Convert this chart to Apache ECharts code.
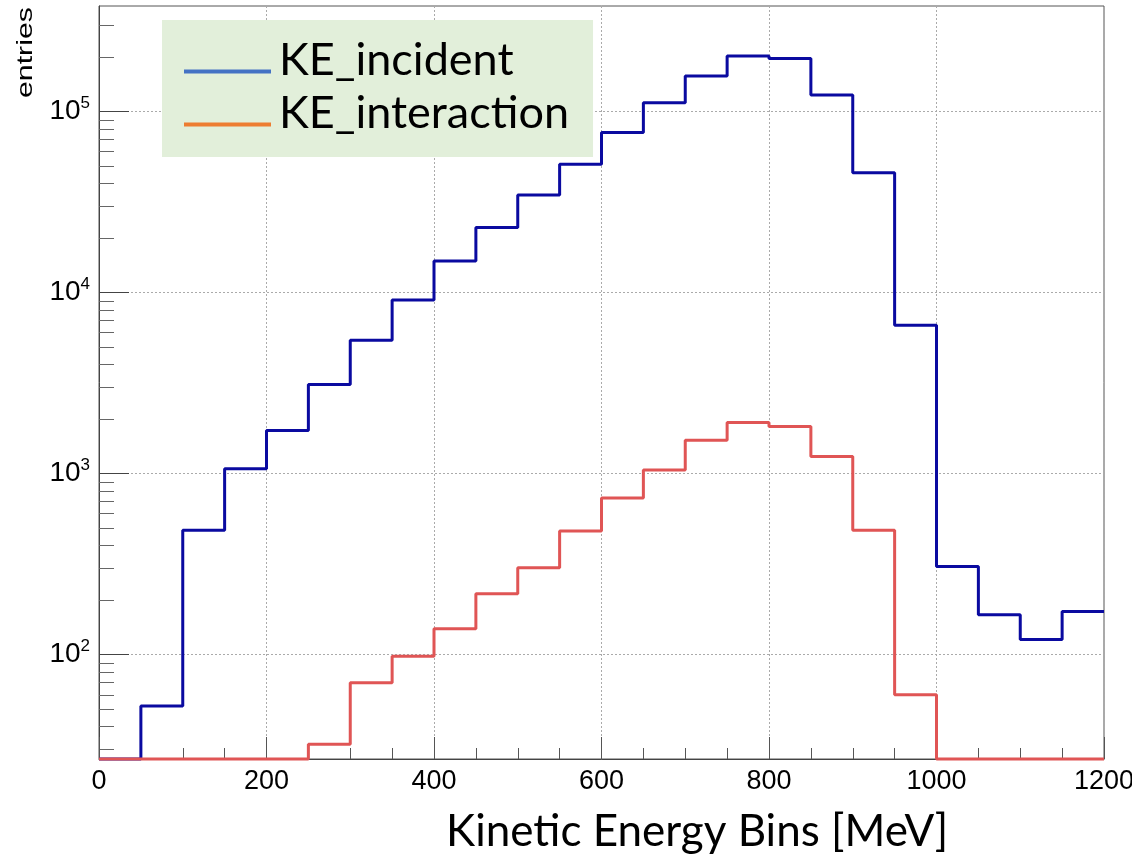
<!DOCTYPE html>
<html>
<head>
<meta charset="utf-8">
<script src="https://cdn.jsdelivr.net/npm/echarts@6/dist/echarts.min.js"></script>
<style>
  html, body { margin: 0; padding: 0; background: #fff; }
  #chart { width: 1132px; height: 859px; }
</style>
</head>
<body>
<div id="chart"></div>
<script>
// ---- data ----
const BIN_EDGES = [0, 50, 100, 150, 200, 250, 300, 350, 400, 450, 500, 550, 600,
                   650, 700, 750, 800, 850, 900, 950, 1000, 1050, 1100, 1150, 1200];
const KE_INCIDENT = [0, 52, 486, 1062, 1730, 3110, 5450, 9100, 14950, 22850, 34600, 51200,
                     76500, 111900, 157000, 202600, 196700, 123300, 45900, 6590, 307, 166, 121, 173];
const KE_INTERACTION = [0, 0, 0, 0, 0, 32, 70, 98, 139, 217, 302, 481,
                        733, 1047, 1528, 1913, 1820, 1242, 486, 60, 0, 0, 0, 0];
const SERIES_NAMES = ['KE_incident', 'KE_interaction'];
const X_TICK_LABELS = [0, 200, 400, 600, 800, 1000, 1200];
const Y_MAJOR_TICKS = [100, 1000, 10000, 100000];
const Y_MINOR_TICKS = [30, 40, 50, 60, 70, 80, 90,
                       200, 300, 400, 500, 600, 700, 800, 900,
                       2000, 3000, 4000, 5000, 6000, 7000, 8000, 9000,
                       20000, 30000, 40000, 50000, 60000, 70000, 80000, 90000,
                       200000, 300000];
const Y_MIN = 26.5, Y_MAX = 383000;

// ---- mapping onto a log10 value axis ----
const lg = v => Math.log10(v);
const yMinL = lg(Y_MIN), yMaxL = lg(Y_MAX);
function histData(values) {
  const pts = values.map((v, i) => [BIN_EDGES[i], v > 0 ? lg(v) : yMinL]);
  pts.push([BIN_EDGES[BIN_EDGES.length - 1], pts[pts.length - 1][1]]);
  return pts;
}

const NUM_FONT = "'Liberation Sans', Arial, sans-serif";
const TXT_FONT = "Lato, 'Open Sans', sans-serif";

const chart = echarts.init(document.getElementById('chart'), null, { renderer: 'canvas' });
chart.setOption({
  animation: false,
  backgroundColor: '#ffffff',
  title: {
    text: 'Kinetic Energy Bins [MeV]',
    left: 446, top: 810, padding: 0,
    textStyle: { fontFamily: TXT_FONT, fontSize: 44, fontWeight: 'normal', color: '#000' }
  },
  legend: {
    orient: 'vertical', left: 162, top: 20,
    backgroundColor: '#e2efda',
    padding: [18, 24, 21, 22],
    itemWidth: 87, itemHeight: 4, itemGap: 8,
    icon: 'rect',
    data: [
      { name: SERIES_NAMES[0], itemStyle: { color: '#4472c4' } },
      { name: SERIES_NAMES[1], itemStyle: { color: '#ed7d31' } }
    ],
    formatter: name => '{t|' + name + '}',
    textStyle: {
      color: '#000',
      rich: { t: { fontFamily: TXT_FONT, fontSize: 45, color: '#000', padding: [0, 0, 22, 3] } }
    }
  },
  grid: { left: 99, right: 28, top: 6, bottom: 100, show: true, borderColor: '#555', borderWidth: 1, outerBoundsMode: 'none' },
  xAxis: {
    type: 'value', min: 0, max: 1200, interval: 200,
    axisLine: { lineStyle: { color: '#444', width: 1 } },
    axisTick: { inside: true, length: 22, lineStyle: { color: '#555' } },
    minorTick: { show: true, splitNumber: 4, length: 11, lineStyle: { color: '#555' } },
    splitLine: { show: true, lineStyle: { color: '#aaa', type: [2, 2], width: 1 } },
    axisLabel: {
      margin: 9, color: '#000', fontFamily: NUM_FONT, fontSize: 27,
      customValues: X_TICK_LABELS,
      formatter: v => String(v)
    }
  },
  yAxis: [
    {
      type: 'value', min: yMinL, max: yMaxL,
      axisLine: { show: true, lineStyle: { color: '#444' } },
      axisTick: { inside: true, length: 30, lineStyle: { color: '#444' }, customValues: Y_MAJOR_TICKS.map(lg) },
      splitLine: { show: true, lineStyle: { color: '#aaa', type: [2, 2], width: 1 } },
      axisLabel: {
        margin: 9, color: '#000', fontFamily: NUM_FONT, fontSize: 28,
        customValues: Y_MAJOR_TICKS.map(lg),
        formatter: v => '10{s|' + Math.round(v) + '}',
        rich: { s: { fontFamily: NUM_FONT, fontSize: 17, padding: [0, 0, 17, 0], color: '#000' } }
      }
    },
    {
      type: 'value', min: yMinL, max: yMaxL, position: 'left',
      axisLine: { show: false },
      axisLabel: { show: false },
      splitLine: { show: false },
      axisTick: { show: true, inside: true, length: 15, lineStyle: { color: '#666' }, customValues: Y_MINOR_TICKS.map(lg) }
    }
  ],
  graphic: [{
    type: 'text', x: 37, y: 7, rotation: Math.PI / 2, scaleX: 1.38,
    style: { text: 'entries', fontFamily: "'Liberation Sans', Arial, sans-serif", fontSize: 22, fill: '#000', align: 'right', verticalAlign: 'bottom' }
  }],
  series: [
    {
      name: SERIES_NAMES[0], type: 'line', step: 'end', symbol: 'none', clip: false,
      data: histData(KE_INCIDENT),
      lineStyle: { color: '#0a0aa0', width: 3 }, itemStyle: { color: '#0a0aa0' }
    },
    {
      name: SERIES_NAMES[1], type: 'line', step: 'end', symbol: 'none', clip: false,
      data: histData(KE_INTERACTION),
      lineStyle: { color: '#e05555', width: 3 }, itemStyle: { color: '#e05555' }
    }
  ]
});
</script>
</body>
</html>
